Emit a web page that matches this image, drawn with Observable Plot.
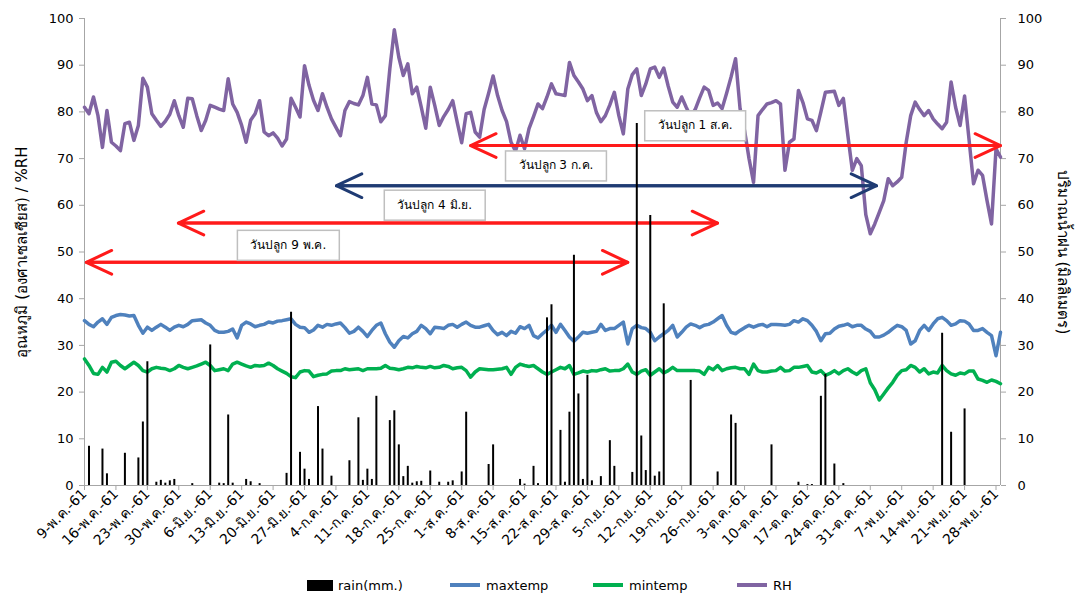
<!DOCTYPE html>
<html><head><meta charset="utf-8">
<script src="https://cdn.jsdelivr.net/npm/d3@7"></script>
<script src="https://cdn.jsdelivr.net/npm/@observablehq/plot@0.6"></script>
<style>
body{margin:0;background:#fff;font-family:"DejaVu Sans",sans-serif;}
#chart{position:relative;width:1078px;height:598px;overflow:hidden;}
.legend{position:absolute;top:576px;left:0;width:1078px;height:18px;font-size:13px;color:#000;}
.item{position:absolute;top:0;display:flex;align-items:center;height:18px;white-space:nowrap;}
.sw-line{display:inline-block;width:30px;height:4px;margin-right:6px;}
.sw-rect{display:inline-block;width:26px;height:11px;background:#000;margin-right:5px;}
</style></head><body><div id="chart"></div>
<script>
// ---- data ----
const rh = [
81.0,79.6,83.2,79.2,72.4,80.3,73.5,72.7,71.7,77.5,
77.8,73.9,77.1,87.2,85.3,79.6,78.2,76.9,78.0,79.5,
82.4,79.2,76.7,82.9,82.8,79.2,76.0,78.2,81.4,81.0,
80.6,80.3,87.1,81.7,79.9,77.1,73.5,78.2,79.6,82.4,
75.7,74.9,75.5,74.4,72.7,74.2,82.9,81.0,78.9,89.9,
85.7,82.5,80.3,83.9,81.0,78.5,76.7,74.9,80.3,82.2,
81.8,81.5,83.5,87.4,81.7,81.5,77.9,79.2,89.2,97.6,
91.7,87.8,90.3,83.9,85.3,81.0,76.5,85.3,81.4,77.1,
79.0,80.5,82.4,77.8,73.4,79.6,79.9,75.7,74.6,80.5,
84.0,87.7,83.5,80.3,77.9,73.5,71.6,75.0,72.1,76.4,
79.0,81.7,80.7,83.2,86.0,83.9,83.7,83.5,90.6,87.8,
86.4,84.9,82.4,83.5,79.9,77.9,79.2,81.5,84.2,79.2,
75.3,84.9,88.0,89.2,83.5,86.0,89.2,89.6,87.4,89.4,
85.5,82.1,81.0,83.2,81.0,79.0,80.5,83.0,85.3,84.6,
81.4,81.9,80.7,84.0,87.5,91.4,80.7,76.0,70.0,64.9,
79.2,80.5,81.7,82.0,82.4,81.7,67.5,73.5,74.2,84.6,
82.0,78.5,78.2,76.0,80.0,84.2,84.3,84.4,81.4,82.9,
75.0,67.5,70.0,68.5,58.0,53.9,56.0,58.5,61.0,65.7,
64.2,65.0,66.0,73.5,79.2,82.1,80.5,79.2,80.3,78.5,
77.4,76.4,77.8,86.4,81.0,77.1,83.4,74.0,64.6,67.5,
66.4,61.0,56.0,72.1,70.3];

const maxTemp = [
35.3,34.5,34.0,35.0,35.7,34.5,36.0,36.4,36.6,36.5,
36.3,36.4,34.3,32.6,33.9,33.2,33.9,34.5,33.9,33.2,
33.9,34.3,34.0,34.5,35.3,35.4,35.5,34.8,34.3,33.2,
32.8,32.8,33.0,33.5,31.6,34.3,35.0,34.6,34.0,34.3,
34.5,35.0,34.8,35.2,35.3,35.5,35.7,34.5,33.9,33.8,
32.8,33.3,34.3,33.9,34.5,34.3,34.6,34.8,33.8,32.6,
33.0,33.9,33.0,31.9,33.2,34.3,34.8,32.5,30.7,29.6,
31.0,31.9,31.6,32.5,33.0,34.3,33.6,32.5,33.9,33.8,
33.6,34.3,34.5,33.9,34.5,35.0,34.3,33.9,33.9,34.2,
34.5,33.2,32.3,32.8,32.1,33.0,32.6,34.0,33.6,34.3,
32.1,31.6,32.5,33.3,34.3,32.8,34.5,33.2,31.8,30.9,
31.8,32.8,32.6,32.8,33.0,34.5,33.2,33.6,33.6,34.3,
35.0,30.3,33.6,34.3,33.8,33.6,32.8,31.0,31.8,32.5,
33.2,34.3,31.8,32.8,33.9,34.6,34.3,33.8,34.3,34.5,
35.0,35.7,36.4,34.3,32.8,32.5,33.2,33.8,34.3,33.9,
34.3,34.5,34.0,34.5,34.5,34.4,34.3,34.5,35.3,35.0,
35.7,35.3,34.3,33.0,31.0,32.5,32.6,33.5,34.1,34.3,
34.6,34.0,34.3,34.3,33.5,33.0,31.8,31.8,32.2,32.8,
33.6,34.3,34.0,33.2,30.3,31.0,33.2,34.3,33.2,34.6,
35.7,36.0,35.3,34.3,34.6,35.3,35.2,34.6,33.2,33.2,
33.6,32.8,32.1,27.8,32.8];

const minTemp = [
27.1,25.7,24.0,23.8,25.3,24.3,26.4,26.6,25.7,25.0,
25.7,26.4,25.7,24.6,24.3,25.0,25.3,25.1,25.0,24.6,
25.0,25.7,25.3,25.0,25.3,25.6,26.0,26.4,25.7,24.6,
24.8,25.0,24.6,26.0,26.4,26.0,25.6,25.3,25.7,25.6,
25.7,26.2,25.7,25.0,24.5,24.0,23.3,23.1,24.3,24.6,
24.5,23.3,23.6,23.8,23.9,24.5,24.6,24.6,25.0,24.8,
24.9,25.0,24.6,25.0,25.0,25.0,25.1,25.7,25.1,25.0,
24.8,25.0,25.3,25.2,25.5,25.3,25.2,25.5,25.2,25.3,
25.7,25.5,25.0,25.2,25.3,24.6,23.2,24.3,25.0,24.9,
24.8,24.8,24.9,25.0,25.3,23.8,25.3,26.0,25.7,25.5,
25.7,25.0,24.3,23.8,24.3,24.8,25.3,25.0,25.7,23.8,
24.1,24.5,24.3,24.6,24.5,24.8,25.0,24.5,24.6,24.6,
25.0,26.0,24.3,23.8,24.5,24.8,23.6,24.3,25.0,24.1,
24.6,25.3,24.6,24.6,24.6,24.6,24.6,24.5,23.8,25.3,
24.8,25.7,24.6,25.0,25.2,25.3,25.0,25.0,23.8,26.0,
24.6,24.3,24.3,24.5,24.6,25.3,24.5,24.6,25.3,25.3,
25.5,25.7,24.3,24.1,24.6,23.6,24.0,24.6,23.9,24.6,
25.0,24.3,23.8,24.6,25.0,22.0,20.5,18.3,19.6,20.9,
22.1,23.6,24.6,24.8,25.7,25.3,24.3,25.0,23.9,24.3,
24.1,25.7,24.6,23.9,23.6,24.1,23.9,24.5,24.5,22.8,
22.5,22.1,22.6,22.3,21.8];

// rain (mm.) : day index since 9 May 2018 and amount
const rainDay = [1,4,5,9,12,13,14,16,17,18,19,20,24,28,30,31,32,33,36,37,39,45,46,48,49,50,52,53,55,59,61,62,63,64,65,68,69,70,71,72,73,74,75,77,79,81,82,84,85,90,91,97,98,100,101,103,104,106,107,108,109,110,111,112,113,115,117,118,122,123,124,125,126,127,128,129,135,141,144,145,153,159,161,162,164,165,167,169,191,193,196];
const rainMm = [8.4,7.8,2.5,6.9,5.9,13.6,26.5,0.7,1.1,0.5,1.0,1.3,0.4,30.1,0.5,0.4,15.1,0.5,1.3,0.8,0.4,2.6,37.1,7.1,3.5,1.3,16.9,7.8,2.0,5.3,14.5,1.1,3.5,1.3,19.1,13.9,16.0,8.7,1.9,4.1,0.5,0.8,0.9,3.1,0.7,0.7,1.0,2.9,15.7,4.5,8.7,1.3,0.3,4.1,0.4,35.9,38.7,11.8,0.7,15.7,49.3,19.6,1.3,23.6,1.0,1.9,9.6,4.1,2.8,77.5,10.6,3.2,57.8,2.0,2.9,38.9,22.5,2.9,15.1,13.3,8.7,0.7,0.2,0.2,19.1,23.8,4.6,0.4,32.6,11.4,16.4];

const xTickLabels = ["9-พ.ค.-61","16-พ.ค.-61","23-พ.ค.-61","30-พ.ค.-61","6-มิ.ย.-61","13-มิ.ย.-61","20-มิ.ย.-61","27-มิ.ย.-61","4-ก.ค.-61","11-ก.ค.-61","18-ก.ค.-61","25-ก.ค.-61","1-ส.ค.-61","8-ส.ค.-61","15-ส.ค.-61","22-ส.ค.-61","29-ส.ค.-61","5-ก.ย.-61","12-ก.ย.-61","19-ก.ย.-61","26-ก.ย.-61","3-ต.ค.-61","10-ต.ค.-61","17-ต.ค.-61","24-ต.ค.-61","31-ต.ค.-61","7-พ.ย.-61","14-พ.ย.-61","21-พ.ย.-61","28-พ.ย.-61"];
const xTickDays = [0,7,14,21,28,35,42,49,56,63,70,77,84,91,98,105,112,119,126,133,140,147,154,161,168,175,182,189,196,203];
const yTicks = [0,10,20,30,40,50,60,70,80,90,100];

// planting periods (annotations)
const plantLabel = ["วันปลูก 1 ส.ค.", "วันปลูก 3 ก.ค.", "วันปลูก 4 มิ.ย.", "วันปลูก 9 พ.ค."];
const plantFrom = [86, 56.1, 20.9, 0.4];
const plantTo = [204, 176.4, 141, 121];
const plantLevel = [72.8, 64.2, 56.2, 47.8];
const plantLabelDay = [136, 105, 78, 45.4];
const plantLabelLevel = [77.1, 68.5, 60.1, 51.5];
const plantColor = ["#ff1a1a", "#1f3b73", "#ff1a1a", "#ff1a1a"];

const leftTitle = "อุณหภูมิ (องศาเซลเซียส) / %RH";
const rightTitle = "ปริมาณน้ำฝน (มิลลิเมตร)";

// ---- build tables ----
const daily = rh.map((v, i) => ({day: i, rh: v, maxT: maxTemp[i], minT: minTemp[i]}));
const rain = rainDay.map((d, k) => ({day: d, mm: rainMm[k]}));
const plantings = plantLabel.map((label, k) => ({label, from: plantFrom[k], to: plantTo[k], level: plantLevel[k],
  color: plantColor[k], lx: plantLabelDay[k], ly: plantLabelLevel[k]}));

const font = "Tahoma, 'DejaVu Sans', 'Noto Sans', sans-serif";
const axisGrey = "#a6a6a6";

const chart = Plot.plot({
  width: 1078, height: 570,
  marginTop: 18, marginRight: 78, marginBottom: 85, marginLeft: 84,
  style: {fontFamily: font, fontSize: "12px", color: "#000", background: "#fff", overflow: "visible"},
  x: {domain: [0, 204]},
  y: {domain: [0, 100]},
  color: {type: "identity"},
  marks: [
    Plot.axisY({anchor: "left", ticks: yTicks, tickSize: 5, tickPadding: 6, stroke: axisGrey, fill: "#000", label: null, fontSize: 13}),
    Plot.axisY({anchor: "right", ticks: yTicks, tickSize: 5, tickPadding: 12, stroke: axisGrey, fill: "#000", label: null, fontSize: 13}),
    Plot.axisX({ticks: xTickDays, tickSize: 5, tickFormat: () => "", stroke: axisGrey, label: null}),
    Plot.axisX({ticks: xTickDays, tickSize: 0, tickPadding: 6, tickRotate: -45,
      tickFormat: d => xTickLabels[xTickDays.indexOf(d)], fill: "#000", label: null, fontSize: 14}),
    Plot.ruleY([0], {stroke: axisGrey}),
    Plot.ruleX([0], {stroke: axisGrey}),
    Plot.ruleX([204], {stroke: axisGrey}),
    Plot.line(daily, {x: "day", y: "maxT", stroke: "#4f81bd", strokeWidth: 3.5}),
    Plot.line(daily, {x: "day", y: "minT", stroke: "#00b050", strokeWidth: 3.5}),
    Plot.line(daily, {x: "day", y: "rh", stroke: "#8064a2", strokeWidth: 3.5}),
    Plot.arrow(plantings, {x1: "from", x2: "to", y1: "level", y2: "level", stroke: "color", strokeWidth: 3, headLength: 14, headAngle: 50}),
    Plot.arrow(plantings, {x1: "to", x2: "from", y1: "level", y2: "level", stroke: "color", strokeWidth: 3, headLength: 14, headAngle: 50}),
    Plot.ruleX(rain, {x: "day", y1: 0, y2: "mm", stroke: "#000", strokeWidth: 2}),
    Plot.text(plantings, {x: "lx", y: "ly", text: "label", fill: "#000", fontSize: 12}),
    Plot.text([leftTitle], {frameAnchor: "left", textAnchor: "middle", dx: -62, rotate: -90, fontSize: 15, fill: "#000"}),
    Plot.text([rightTitle], {frameAnchor: "right", textAnchor: "middle", dx: 62, rotate: 90, fontSize: 15, fill: "#000"})
  ]
});

const host = document.getElementById("chart");
host.append(chart);

// white boxes behind the planting labels
chart.querySelectorAll("text").forEach(t => {
  if (!t.textContent.startsWith("วันปลูก")) return;
  const b = t.getBBox();
  const r = document.createElementNS("http://www.w3.org/2000/svg", "rect");
  const w = b.width + 26, h = 30;
  r.setAttribute("x", b.x + b.width / 2 - w / 2);
  r.setAttribute("y", b.y + b.height / 2 - h / 2);
  r.setAttribute("width", w);
  r.setAttribute("height", h);
  r.setAttribute("fill", "#fff");
  r.setAttribute("stroke", "#bfbfbf");
  r.setAttribute("stroke-width", "1.5");
  const tr = t.getAttribute("transform");
  if (tr) r.setAttribute("transform", tr);
  t.parentNode.insertBefore(r, t);
});

// legend
const legendItems = [
  {name: "rain(mm.)", kind: "rect", color: "#000", left: 307},
  {name: "maxtemp", kind: "line", color: "#4f81bd", left: 450},
  {name: "mintemp", kind: "line", color: "#00b050", left: 593},
  {name: "RH", kind: "line", color: "#8064a2", left: 737}
];
const legend = document.createElement("div");
legend.className = "legend";
legendItems.forEach(it => {
  const d = document.createElement("div");
  d.className = "item";
  d.style.left = it.left + "px";
  const sw = document.createElement("span");
  sw.className = it.kind === "rect" ? "sw-rect" : "sw-line";
  sw.style.background = it.color;
  const tx = document.createElement("span");
  tx.textContent = it.name;
  d.append(sw, tx);
  legend.append(d);
});
host.append(legend);
</script></body></html>
